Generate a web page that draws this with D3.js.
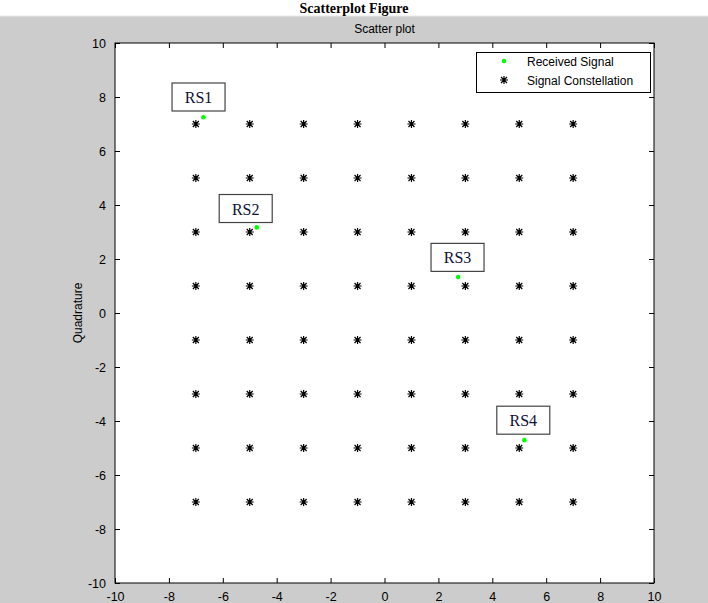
<!DOCTYPE html>
<html lang="en">
<head>
  <meta charset="UTF-8">
  <title>Scatterplot Figure</title>
  <script src="https://d3js.org/d3.v7.min.js"></script>
  <style>
    body { margin: 0; background: #fff; }
    svg { display: block; }
    .tick-label { font-family: "Liberation Sans", Arial, sans-serif; font-size: 12px; fill: #000; }
  </style>
</head>
<body>
  <svg width="708" height="603"></svg>
  <script>
    // received signal samples (in-phase, quadrature)
    const rxI = [-6.72, -4.74, 2.73, 5.19];
    const rxQ = [7.25, 3.17, 1.33, -4.71];
    const rxLabels = ["RS1", "RS2", "RS3", "RS4"];
    // label box centres, data units
    const labelI = [-6.90, -5.15, 2.71, 5.15];
    const labelQ = [8.00, 3.87, 2.06, -3.97];
    // 64-QAM constellation levels
    const levels = [-7, -5, -3, -1, 1, 3, 5, 7];
    const ticks = [-10, -8, -6, -4, -2, 0, 2, 4, 6, 8, 10];

    const svg = d3.select("svg");
    const W = 708, H = 603;
    const margin = { top: 43, right: 54, bottom: 20, left: 115 };
    const x0 = margin.left, x1 = W - margin.right;
    const y0 = margin.top, y1 = H - margin.bottom;

    // figure background
    svg.append("rect").attr("width", W).attr("height", H).attr("fill", "#fff");
    svg.append("rect").attr("y", 16).attr("width", W).attr("height", H - 16).attr("fill", "#cccccc");
    svg.append("line").attr("x1", 0).attr("x2", W).attr("y1", 16).attr("y2", 16)
      .attr("stroke", "#e8e8e8");

    svg.append("text").attr("x", W / 2).attr("y", 13).attr("text-anchor", "middle")
      .style("font-family", "'Liberation Serif', 'Times New Roman', serif")
      .style("font-weight", "bold").style("font-size", "14px")
      .text("Scatterplot Figure");

    const x = d3.scaleLinear().domain([-10, 10]).range([x0, x1]);
    const y = d3.scaleLinear().domain([-10, 10]).range([y1, y0]);
    const fmt = d => String(d); // plain hyphen minus like MATLAB

    svg.append("rect").attr("x", x0).attr("y", y0)
      .attr("width", x1 - x0).attr("height", y1 - y0).attr("fill", "#fff");

    // axes with inward ticks on all sides
    const tl = 5;
    svg.append("g").attr("transform", `translate(0,${y1})`)
      .call(d3.axisBottom(x).tickValues(ticks).tickFormat(fmt).tickSize(-tl).tickPadding(tl + 4))
      .call(g => g.select(".domain").remove());
    svg.append("g").attr("transform", `translate(0,${y0})`)
      .call(d3.axisTop(x).tickValues(ticks).tickSize(-tl).tickFormat(""))
      .call(g => g.select(".domain").remove());
    svg.append("g").attr("transform", `translate(${x0},0)`)
      .call(d3.axisLeft(y).tickValues(ticks).tickFormat(fmt).tickSize(-tl).tickPadding(tl + 4))
      .call(g => g.select(".domain").remove());
    svg.append("g").attr("transform", `translate(${x1},0)`)
      .call(d3.axisRight(y).tickValues(ticks).tickSize(-tl).tickFormat(""))
      .call(g => g.select(".domain").remove());
    svg.selectAll(".tick line").attr("stroke", "#000");
    svg.selectAll(".tick text").attr("class", "tick-label").attr("fill", null)
      .style("font-family", "'Liberation Sans', Arial, sans-serif").style("font-size", "12.5px");

    svg.append("rect").attr("x", x0).attr("y", y0)
      .attr("width", x1 - x0).attr("height", y1 - y0)
      .attr("fill", "none").attr("stroke", "#000");

    svg.append("text").attr("x", (x0 + x1) / 2).attr("y", 33).attr("text-anchor", "middle")
      .attr("class", "tick-label").text("Scatter plot");
    svg.append("text").attr("transform", `translate(82,${(y0 + y1) / 2}) rotate(-90)`)
      .attr("text-anchor", "middle").attr("class", "tick-label").text("Quadrature");

    function star(g, cx, cy) {
      const a = 4, b = 3;
      g.append("path")
        .attr("d", `M${cx - a},${cy}H${cx + a}M${cx},${cy - a}V${cy + a}` +
                   `M${cx - b},${cy - b}L${cx + b},${cy + b}M${cx - b},${cy + b}L${cx + b},${cy - b}`)
        .attr("stroke", "#000").attr("stroke-width", 1.2).attr("fill", "none");
    }

    // constellation
    const cons = svg.append("g");
    levels.forEach(qi => levels.forEach(ii => star(cons, x(ii), y(qi))));

    // received signal
    svg.append("g").selectAll("circle")
      .data(rxI.map((d, i) => [d, rxQ[i]]))
      .join("circle")
      .attr("cx", d => x(d[0])).attr("cy", d => y(d[1]))
      .attr("r", 2.3).attr("fill", "#00ff00");

    // annotation boxes
    const bw = 53, bh = 28;
    const ann = svg.append("g").selectAll("g")
      .data(rxLabels.map((t, i) => ({ t, cx: x(labelI[i]), cy: y(labelQ[i]) })))
      .join("g");
    ann.append("rect")
      .attr("x", d => d.cx - bw / 2).attr("y", d => d.cy - bh / 2)
      .attr("width", bw).attr("height", bh)
      .attr("fill", "#fff").attr("stroke", "#444").attr("stroke-width", 1.2);
    ann.append("text")
      .attr("x", d => d.cx).attr("y", d => d.cy + 6).attr("text-anchor", "middle")
      .style("font-family", "'Liberation Serif', 'Times New Roman', serif")
      .style("font-size", "16px").attr("fill", "#101038")
      .text(d => d.t);

    // legend
    const lg = svg.append("g");
    lg.append("rect").attr("x", 476.5).attr("y", 52.5).attr("width", 174).attr("height", 40)
      .attr("fill", "#fff").attr("stroke", "#000");
    lg.append("circle").attr("cx", 504).attr("cy", 61).attr("r", 2.3).attr("fill", "#00ff00");
    star(lg, 504, 80);
    lg.append("text").attr("x", 527).attr("y", 65.5).attr("class", "tick-label").text("Received Signal");
    lg.append("text").attr("x", 527).attr("y", 84.5).attr("class", "tick-label").text("Signal Constellation");
  </script>
</body>
</html>
